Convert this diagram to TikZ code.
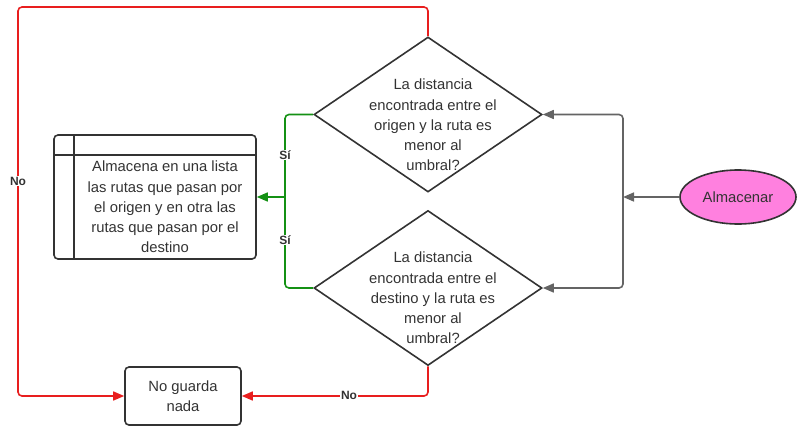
\documentclass[tikz,border=0pt]{standalone}
\usepackage{fontspec}
\setmainfont{Liberation Sans}
\usetikzlibrary{shapes.geometric,arrows.meta}
\definecolor{lred}{RGB}{232,30,30}
\definecolor{lgreen}{RGB}{20,145,20}
\definecolor{lgray}{RGB}{100,100,100}
\definecolor{ldark}{RGB}{51,51,51}
\definecolor{lpink}{RGB}{255,128,223}
\tikzset{
  dia/.style={diamond, draw=ldark, line width=1.6pt, minimum width=228pt, minimum height=155pt, inner sep=0pt},
  txt/.style={align=center, font=\fontsize{14.8}{20.2}\selectfont, text=ldark},
  conn/.style={line width=1.6pt, rounded corners=4pt, -{Triangle[length=11pt,width=9pt]}},
  plain/.style={line width=1.6pt, rounded corners=4pt},
  lab/.style={fill=white, inner sep=1pt, font=\fontsize{12}{14}\selectfont\bfseries, text=ldark},
  boxst/.style={draw=ldark, line width=1.6pt, rounded corners=4pt}
}
\begin{document}
\begin{tikzpicture}[x=1pt,y=-1pt]
\useasboundingbox (0,0) rectangle (799,428);
% diamonds
\node[dia] (d1) at (428,114.5) {};
\node[txt] (t1) at (433,125) {La distancia\\encontrada entre el\\origen y la ruta es\\menor al\\umbral?};
\node[dia] (d2) at (428,288) {};
\node[txt] (t2) at (433,298) {La distancia\\encontrada entre el\\destino y la ruta es\\menor al\\umbral?};
% ellipse
\node[ellipse, draw=ldark, line width=1.6pt, fill=lpink, minimum width=116pt, minimum height=54pt, txt] (el) at (738,197) {Almacenar};
% box
\node[boxst, minimum width=202pt, minimum height=124pt] (bx) at (155,197) {};
\draw[ldark, line width=1.6pt] (74,135) -- (74,259);
\draw[ldark, line width=1.6pt] (54,155) -- (256,155);
\node[txt] (bt) at (165,207) {Almacena en una lista\\las rutas que pasan por\\el origen y en otra las\\rutas que pasan por el\\destino};
% no guarda nada
\node[boxst, minimum width=116pt, minimum height=58pt, txt] (ng) at (183,396) {No guarda\\nada};
% gray connectors
\coordinate (gj) at (623,197);
\draw[conn, lgray] (el.west) -- (gj);
\draw[conn, lgray] (gj) |- (d1.east);
\draw[conn, lgray] (gj) |- (d2.east);
% green connectors
\coordinate (vj) at (285,197);
\draw[plain, lgreen] (d1.west) -| (vj);
\draw[plain, lgreen] (d2.west) -| (vj);
\draw[conn, lgreen] (vj) -- (bx.east);
\node[lab] (s1) at (285,155) {Sí};
\node[lab] (s2) at (285,240) {Sí};
% red connectors
\coordinate (r1) at (428,7);
\coordinate (r2) at (18,7);
\coordinate (r3) at (18,396);
\draw[conn, lred] (d1.north) -- (r1) -- (r2) -- (r3) -- (ng.west);
\node[lab] (n1) at (18,181) {No};
\draw[conn, lred] (d2.south) |- (ng.east);
\node[lab] (n2) at (349,395) {No};
\end{tikzpicture}
\end{document}
